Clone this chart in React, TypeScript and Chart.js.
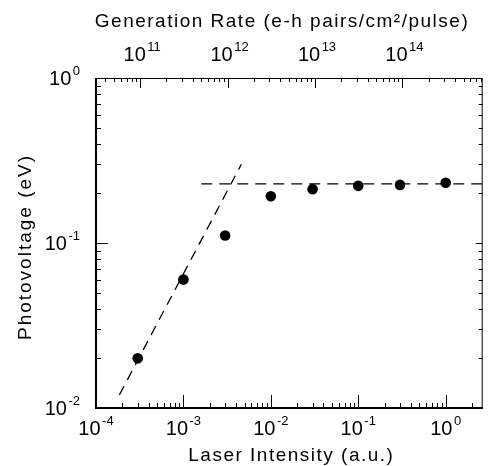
import React, { useEffect, useRef } from "react";
import { Chart, registerables } from "chart.js";

Chart.register(...registerables);

// ---- data ----
const intensity = [3e-4, 1e-3, 3e-3, 1e-2, 3e-2, 1e-1, 3e-1, 1];
const photovoltage = [0.02, 0.06, 0.111, 0.192, 0.212, 0.222, 0.225, 0.232];
const slopeLineX = [1.85e-4, 4.6e-3];
const slopeLineY = [0.012, 0.3];
const flatLineX = [1.6e-3, 2.6];
const flatLineY = [0.228, 0.228];
const xRange = [1e-4, 2.65];
const yRange = [0.01, 1];
const genRateLogOffset = 14.495; // log10(generation rate / laser intensity)
const xTickExps = [-4, -3, -2, -1, 0];
const yTickExps = [-2, -1, 0];
const topTickExps = [11, 12, 13, 14];
const xTitle = "Laser Intensity (a.u.)";
const yTitle = "Photovoltage (eV)";
const topTitle = "Generation Rate (e-h pairs/cm²/pulse)";

const FONT = '"Liberation Sans", Arial, sans-serif';

function drawPow(ctx: CanvasRenderingContext2D, exp: number, x: number, y: number, align: "center" | "right") {
  const base = "10";
  const e = String(exp);
  ctx.textAlign = "left";
  ctx.textBaseline = "alphabetic";
  ctx.font = `20px ${FONT}`;
  const w1 = ctx.measureText(base).width;
  ctx.font = `13px ${FONT}`;
  const w2 = ctx.measureText(e).width;
  const gap = 1.5;
  const total = w1 + gap + w2;
  const start = align === "center" ? x - total / 2 : x - total;
  ctx.font = `20px ${FONT}`;
  ctx.fillText(base, start, y);
  ctx.font = `13px ${FONT}`;
  ctx.fillText(e, start + w1 + gap, y - 10);
}

const framePlugin = {
  id: "frameAndLabels",
  afterDraw(chart: any) {
    const { ctx, chartArea: a, scales } = chart;
    const sx = scales.x, sy = scales.y, st = scales.x2;
    ctx.save();
    ctx.strokeStyle = "#000";
    ctx.fillStyle = "#000";

    const seg = (x1: number, y1: number, x2: number, y2: number, w: number) => {
      ctx.lineWidth = w;
      ctx.beginPath();
      ctx.moveTo(x1, y1);
      ctx.lineTo(x2, y2);
      ctx.stroke();
    };

    // frame
    seg(a.left, a.top + 0.5, a.right, a.top + 0.5, 1);
    seg(a.right - 0.5, a.top, a.right - 0.5, a.bottom, 1);
    seg(a.left, a.top, a.left, a.bottom + 1, 2);
    seg(a.left - 1, a.bottom, a.right, a.bottom, 2);

    // bottom ticks for intensity
    for (let e = -5; e <= 1; e++) {
      for (let m = 1; m <= 9; m++) {
        const v = m * Math.pow(10, e);
        if (v < sx.min * 0.999 || v > sx.max * 1.001) continue;
        const px = Math.round(sx.getPixelForValue(v)) + 0.5;
        seg(px, a.bottom, px, a.bottom - (m === 1 ? 13 : 5), 1);
      }
    }
    // top ticks for generation rate
    for (let e = 9; e <= 16; e++) {
      for (let m = 1; m <= 9; m++) {
        const v = m * Math.pow(10, e);
        if (v < st.min * 0.999 || v > st.max * 1.001) continue;
        const px = Math.round(st.getPixelForValue(v)) + 0.5;
        seg(px, a.top, px, a.top + (m === 1 ? 10 : 4), 1);
      }
    }
    // left + right ticks
    for (let e = -3; e <= 0; e++) {
      for (let m = 1; m <= 9; m++) {
        const v = m * Math.pow(10, e);
        if (v < sy.min * 0.999 || v > sy.max * 1.001) continue;
        const py = Math.round(sy.getPixelForValue(v)) + 0.5;
        seg(a.left, py, a.left + (m === 1 ? 12 : 5), py, 1);
        seg(a.right, py, a.right - (m === 1 ? 7 : 4), py, 1);
      }
    }

    // tick labels
    xTickExps.forEach((e) => drawPow(ctx, e, sx.getPixelForValue(Math.pow(10, e)), a.bottom + 27, "center"));
    topTickExps.forEach((e) => drawPow(ctx, e, st.getPixelForValue(Math.pow(10, e)) + 2, a.top - 17, "center"));
    yTickExps.forEach((e) => drawPow(ctx, e, a.left - 16, sy.getPixelForValue(Math.pow(10, e)) + 7, "right"));

    // axis titles
    ctx.font = `19px ${FONT}`;
    (ctx as any).letterSpacing = "1.5px";
    ctx.textAlign = "center";
    ctx.textBaseline = "alphabetic";
    ctx.fillText(xTitle, (a.left + a.right) / 2 + 2, 461);
    ctx.fillText(topTitle, 282, 26.5);
    ctx.save();
    ctx.translate(31, (a.top + a.bottom) / 2 + 4);
    ctx.rotate(-Math.PI / 2);
    (ctx as any).letterSpacing = "2px";
    ctx.fillText(yTitle, 0, 0);
    ctx.restore();
    (ctx as any).letterSpacing = "0px";
    ctx.restore();
  },
};

export default function App() {
  const ref = useRef<HTMLCanvasElement | null>(null);
  useEffect(() => {
    if (!ref.current) return;
    const k = Math.pow(10, genRateLogOffset);
    const hidden = {
      ticks: { display: false },
      grid: { display: false },
      border: { display: false },
    };
    const chart = new Chart(ref.current, {
      type: "scatter",
      data: {
        datasets: [
          {
            label: "Photovoltage",
            data: intensity.map((x, i) => ({ x, y: photovoltage[i] })),
            pointRadius: 5.3,
            pointBackgroundColor: "#000",
            pointBorderColor: "#000",
            pointBorderWidth: 0,
            showLine: false,
          },
          {
            label: "slope",
            data: slopeLineX.map((x, i) => ({ x, y: slopeLineY[i] })),
            showLine: true,
            borderColor: "#000",
            borderWidth: 1.3,
            borderDash: [10, 7],
            pointRadius: 0,
          },
          {
            label: "saturation",
            data: flatLineX.map((x, i) => ({ x, y: flatLineY[i] })),
            showLine: true,
            borderColor: "#000",
            borderWidth: 1.3,
            borderDash: [11, 7],
            pointRadius: 0,
          },
        ],
      },
      options: {
        responsive: false,
        animation: false,
        devicePixelRatio: 1,
        layout: { padding: 0 },
        plugins: { legend: { display: false }, tooltip: { enabled: false } },
        scales: {
          x: {
            type: "logarithmic",
            position: "bottom",
            min: xRange[0],
            max: xRange[1],
            ...hidden,
            afterFit: (s: any) => { s.height = 58; },
          },
          x2: {
            type: "logarithmic",
            position: "top",
            min: xRange[0] * k,
            max: xRange[1] * k,
            ...hidden,
            afterFit: (s: any) => { s.height = 78; },
          },
          y: {
            type: "logarithmic",
            position: "left",
            min: yRange[0],
            max: yRange[1],
            ...hidden,
            afterFit: (s: any) => { s.width = 96; },
          },
          y2: {
            type: "logarithmic",
            position: "right",
            min: yRange[0],
            max: yRange[1],
            ...hidden,
            afterFit: (s: any) => { s.width = 1; },
          },
        },
      } as any,
      plugins: [framePlugin],
    });
    return () => chart.destroy();
  }, []);
  return (
    <div style={{ position: "absolute", left: 0, top: 0, width: 488, height: 466, background: "#fff" }}>
      <canvas ref={ref} width={488} height={466} style={{ display: "block" }} />
    </div>
  );
}
